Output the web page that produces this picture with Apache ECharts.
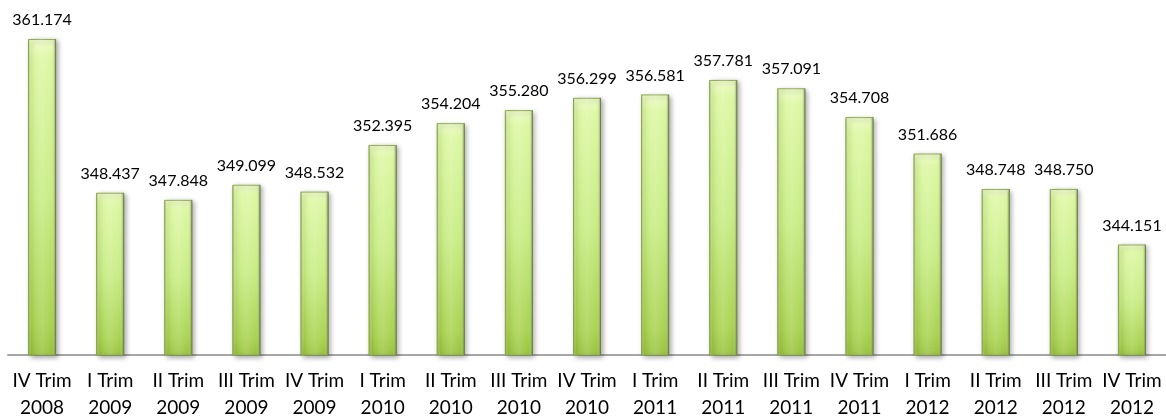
<!DOCTYPE html>
<html>
<head>
<meta charset="utf-8">
<script src="https://cdn.jsdelivr.net/npm/echarts@6/dist/echarts.min.js"></script>
<style>
  html, body { margin: 0; padding: 0; background: #ffffff; }
  #chart { width: 1166px; height: 418px; }
</style>
</head>
<body>
<div id="chart"></div>
<script>
// Quarterly values, IV Trim 2008 – IV Trim 2012
const quarters = ['IV Trim', 'I Trim', 'II Trim', 'III Trim', 'IV Trim', 'I Trim', 'II Trim', 'III Trim',
  'IV Trim', 'I Trim', 'II Trim', 'III Trim', 'IV Trim', 'I Trim', 'II Trim', 'III Trim', 'IV Trim'];
const years = ['2008', '2009', '2009', '2009', '2009', '2010', '2010', '2010',
  '2010', '2011', '2011', '2011', '2011', '2012', '2012', '2012', '2012'];
const values = [361.174, 348.437, 347.848, 349.099, 348.532, 352.395, 354.204, 355.280,
  356.299, 356.581, 357.781, 357.091, 354.708, 351.686, 348.748, 348.750, 344.151];

const categories = quarters.map((q, i) => q + '\n' + years[i]);
const FONT = 'Lato, "Noto Sans", sans-serif';

const chart = echarts.init(document.getElementById('chart'), null, { renderer: 'canvas' });
chart.setOption({
  backgroundColor: '#ffffff',
  animation: false,
  grid: { left: 8, right: 0, top: 29, bottom: 63, containLabel: false, outerBoundsMode: 'none' },
  xAxis: {
    type: 'category',
    data: categories,
    axisLine: { show: true, lineStyle: { color: '#a6a6a6', width: 2 } },
    axisTick: { show: false },
    axisLabel: {
      color: '#000000',
      fontFamily: FONT,
      fontSize: 19,
      lineHeight: 27,
      margin: 12,
      interval: 0
    }
  },
  yAxis: {
    type: 'value',
    min: 335,
    max: 362,
    show: false,
    splitLine: { show: false }
  },
  series: [
    {
      // base bar: pale top fading to deeper green at the bottom
      type: 'bar',
      data: values,
      barWidth: 28,
      z: 2,
      itemStyle: {
        color: new echarts.graphic.LinearGradient(0, 0, 0, 1, [
          { offset: 0, color: '#eefcc6' },
          { offset: 0.06, color: '#dcf7a2' },
          { offset: 0.5, color: '#c8ec83' },
          { offset: 0.9, color: '#a9d250' },
          { offset: 1, color: '#98c23e' }
        ]),
        borderColor: '#8aa84a',
        borderWidth: 1,
        shadowColor: 'rgba(0,0,0,0.35)',
        shadowBlur: 5,
        shadowOffsetX: 2,
        shadowOffsetY: 2
      },
      label: {
        show: true,
        position: 'top',
        distance: 11,
        color: '#000000',
        fontFamily: FONT,
        fontSize: 16,
        formatter: p => p.value.toFixed(3)
      }
    },
    {
      // overlay: darker rims on the left and right edges
      type: 'bar',
      data: values,
      barWidth: 28,
      barGap: '-100%',
      z: 3,
      silent: true,
      itemStyle: {
        color: new echarts.graphic.LinearGradient(0, 0, 1, 0, [
          { offset: 0, color: 'rgba(110,140,40,0.45)' },
          { offset: 0.12, color: 'rgba(255,255,255,0)' },
          { offset: 0.5, color: 'rgba(255,255,255,0.15)' },
          { offset: 0.85, color: 'rgba(255,255,255,0)' },
          { offset: 1, color: 'rgba(60,80,20,0.6)' }
        ])
      }
    }
  ]
});
</script>
</body>
</html>
